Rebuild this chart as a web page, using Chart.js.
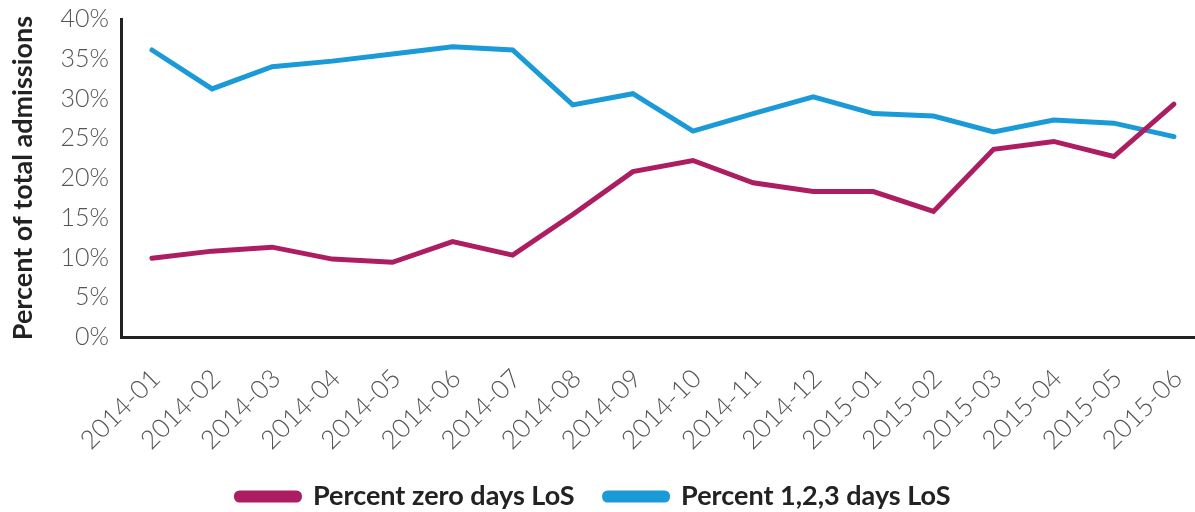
<!DOCTYPE html>
<html>
<head>
<meta charset="utf-8">
<script src="https://cdn.jsdelivr.net/npm/chart.js@4"></script>
<style>
  body { margin: 0; background: #fff; overflow: hidden; }
  #wrap { width: 1195px; height: 512px; overflow: hidden; }
</style>
</head>
<body>
<!-- canvas is a little wider than the window so the x axis runs off the right edge like the original -->
<div id="wrap"><canvas id="myChart" width="1204" height="512"></canvas></div>
<script>
// months on the x axis
const months = ["2014-01","2014-02","2014-03","2014-04","2014-05","2014-06","2014-07","2014-08","2014-09",
                "2014-10","2014-11","2014-12","2015-01","2015-02","2015-03","2015-04","2015-05","2015-06"];
// percent of admissions
const zeroDays = [9.9, 10.8, 11.3, 9.8, 9.4, 12.0, 10.3, 15.4, 20.8, 22.2, 19.4, 18.3, 18.3, 15.8, 23.6, 24.6, 22.7, 29.3];
const oneToThreeDays = [36.1, 31.2, 34.0, 34.7, 35.6, 36.5, 36.1, 29.2, 30.6, 25.9, 28.1, 30.2, 28.1, 27.8, 25.8, 27.3, 26.9, 25.2];
const yTicks = [0, 5, 10, 15, 20, 25, 30, 35, 40];

// nudge the legend a bit left so it sits where the original one does
const legendShift = {
    id: 'legendShift',
    afterLayout(chart) {
        chart.legend.left -= 12;
        chart.legend.right -= 12;
    }
};

const ctx = document.getElementById("myChart").getContext('2d');

const myChart = new Chart(ctx, {
    type: 'line',
    data: {
        labels: months,
        datasets: [{
            label: 'Percent zero days LoS',
            data: zeroDays,
            borderColor: '#AD1D62',
            backgroundColor: '#AD1D62',
            borderWidth: 5,
            pointRadius: 0,
            borderCapStyle: 'round',
            tension: 0
        }, {
            label: 'Percent 1,2,3 days LoS',
            data: oneToThreeDays,
            borderColor: '#1A9AD6',
            backgroundColor: '#1A9AD6',
            borderWidth: 5,
            pointRadius: 0,
            borderCapStyle: 'round',
            tension: 0
        }]
    },
    plugins: [legendShift],
    options: {
        responsive: false,
        animation: false,
        layout: { autoPadding: false, padding: { left: 7, right: 0, top: 19, bottom: -8 } },
        plugins: {
            legend: {
                position: 'bottom',
                labels: {
                    boxWidth: 63,
                    boxHeight: 7,
                    useBorderRadius: true,
                    borderRadius: 3,
                    padding: 30,
                    color: '#222',
                    font: { family: 'Lato', size: 27, weight: 'bold' }
                }
            },
            tooltip: { enabled: false }
        },
        scales: {
            x: {
                offset: true,
                // keep room for the labels fixed
                afterFit: s => { s.height = 116; s.paddingLeft = 0; s.paddingRight = 0; },
                grid: { display: false, drawTicks: false },
                border: { display: true, color: '#222', width: 3 },
                ticks: {
                    color: '#555',
                    padding: 26,
                    labelOffset: 4,
                    minRotation: 45,
                    maxRotation: 45,
                    font: { family: 'Lato', size: 26, weight: 300 }
                }
            },
            y: {
                min: 0,
                max: 40,
                afterBuildTicks: axis => { axis.ticks = yTicks.map(v => ({ value: v })); },
                afterFit: s => { s.paddingTop = 0; s.paddingBottom = 0; },
                grid: { display: false, drawTicks: false },
                border: { display: true, color: '#222', width: 3 },
                ticks: {
                    color: '#555',
                    padding: 13,
                    callback: v => v + '%',
                    font: { family: 'Lato', size: 25, weight: 300 }
                },
                title: {
                    display: true,
                    text: 'Percent of total admissions',
                    color: '#222',
                    padding: { top: 0, bottom: 8 },
                    font: { family: 'Lato', size: 27, weight: 'bold' }
                }
            }
        }
    }
});
</script>
</body>
</html>
